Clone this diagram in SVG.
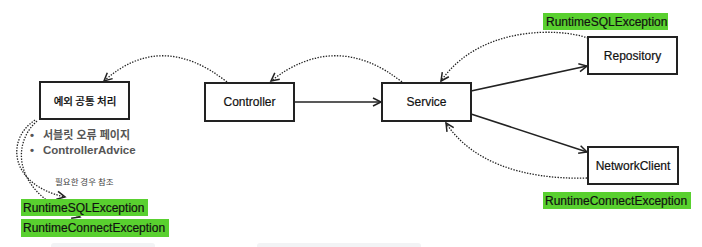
<svg xmlns="http://www.w3.org/2000/svg" width="702" height="247" viewBox="0 0 702 247">
<style>
.box{fill:#fff;stroke:#222;stroke-width:2}
.lbl{font-family:"Liberation Sans",Arial,sans-serif;font-size:12px;fill:#111;stroke:#111;stroke-width:0.2;text-anchor:middle}
.kr{font-family:"Noto Sans CJK KR","Liberation Sans",sans-serif;font-weight:500}
.tag{fill:#59d02f}
.tagt{font-family:"Liberation Sans",Arial,sans-serif;font-size:12px;fill:#111;stroke:#111;stroke-width:0.2}
.dot{fill:none;stroke:#222;stroke-width:1.3;stroke-dasharray:1.4 1.4}
.solid{fill:none;stroke:#222;stroke-width:1.6}
.bul{font-family:"Liberation Sans","Noto Sans CJK KR",sans-serif;font-size:11.5px;font-weight:bold;fill:#555}
</style>
<defs>
<marker id="ah" markerUnits="userSpaceOnUse" markerWidth="12" markerHeight="12" refX="9" refY="5" orient="auto">
<path d="M1,1 L9,5 L1,9" fill="none" stroke="#222" stroke-width="1.5"/>
</marker>
</defs>
<rect x="51" y="243" width="104" height="8" rx="3" fill="#f2f3f5"/>
<rect x="257" y="243" width="164" height="8" rx="3" fill="#f2f3f5"/>
<g id="connectors">
<path class="solid" d="M294,102 L381,102" marker-end="url(#ah)"/>
<path class="solid" d="M471,91 L587,66" marker-end="url(#ah)"/>
<path class="solid" d="M471,114 L587,152" marker-end="url(#ah)"/>
<path class="dot" d="M227,82 Q161,30 104,81" marker-end="url(#ah)"/>
<path class="dot" d="M402,82 Q336,30 271,81" marker-end="url(#ah)"/>
<path class="dot" d="M588,38 C560,28 480,25 441,81" marker-end="url(#ah)"/>
<path class="dot" d="M587,178 C520,180 470,160 446,123" marker-end="url(#ah)"/>
<path class="dot" d="M35,120 C5,140 10,185 65,197" marker-end="url(#ah)"/>
<path class="dot" d="M37,121 C9,146 16,196 80,217" marker-end="url(#ah)"/>
</g>
<g id="exception-handler">
<rect class="box" x="40" y="82" width="89" height="37"/>
<text class="lbl kr" x="85" y="105" style="font-size:10.5px">예외 공통 처리</text>
</g>
<g id="controller">
<rect class="box" x="205" y="83" width="89" height="38"/>
<text class="lbl" x="249.5" y="106">Controller</text>
</g>
<g id="service">
<rect class="box" x="382" y="83" width="89" height="38"/>
<text class="lbl" x="426.5" y="106">Service</text>
</g>
<g id="repository">
<rect class="box" x="588" y="37" width="89" height="37"/>
<text class="lbl" x="632.5" y="60">Repository</text>
</g>
<g id="networkclient">
<rect class="box" x="588" y="147" width="90" height="37"/>
<text class="lbl" x="633" y="170">NetworkClient</text>
</g>
<g id="bullets">
<text class="bul" x="30" y="139">•</text>
<text class="bul" x="43" y="139" style="font-size:11px">서블릿 오류 페이지</text>
<text class="bul" x="30" y="154">•</text>
<text class="bul" x="43" y="154">ControllerAdvice</text>
</g>
<text x="55" y="185" font-family="Noto Sans CJK KR, sans-serif" font-size="8.5" fill="#444">필요한 경우 참조</text>
<g id="tag-sql-top">
<rect class="tag" x="543" y="13" width="125" height="17"/>
<text class="tagt" x="546" y="26">RuntimeSQLException</text>
</g>
<g id="tag-connect-right">
<rect class="tag" x="543" y="192" width="148" height="17"/>
<text class="tagt" x="545" y="205">RuntimeConnectException</text>
</g>
<g id="tag-sql-left">
<rect class="tag" x="21" y="199" width="127" height="17"/>
<text class="tagt" x="23" y="212">RuntimeSQLException</text>
</g>
<g id="tag-connect-left">
<rect class="tag" x="21" y="219" width="148" height="18"/>
<text class="tagt" x="23" y="232">RuntimeConnectException</text>
</g>
</svg>
